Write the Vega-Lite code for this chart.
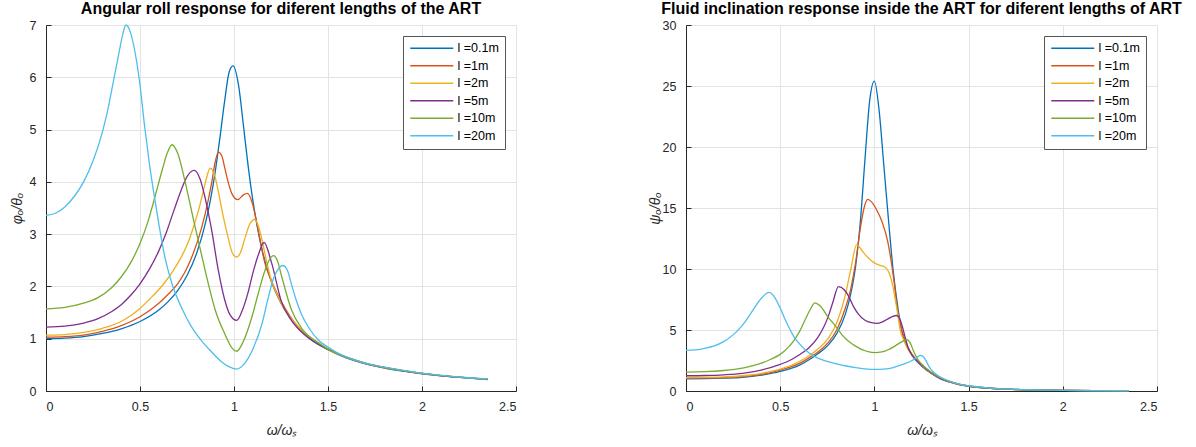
{
"$schema": "https://vega.github.io/schema/vega-lite/v6.json",
"background": "white",
"padding": {"left": 10, "top": 1, "right": 0, "bottom": 0},
"datasets": {
"roll": [
{"s":"l =0.1m","x":0,"y":1.0},{"s":"l =0.1m","x":0.1,"y":1.01},{"s":"l =0.1m","x":0.2,"y":1.04},{"s":"l =0.1m","x":0.3,"y":1.10},{"s":"l =0.1m","x":0.4,"y":1.19},{"s":"l =0.1m","x":0.5,"y":1.33},{"s":"l =0.1m","x":0.6,"y":1.55},{"s":"l =0.1m","x":0.65,"y":1.71},{"s":"l =0.1m","x":0.7,"y":1.92},{"s":"l =0.1m","x":0.75,"y":2.21},{"s":"l =0.1m","x":0.8,"y":2.62},{"s":"l =0.1m","x":0.85,"y":3.24},{"s":"l =0.1m","x":0.875,"y":3.66},{"s":"l =0.1m","x":0.9,"y":4.19},{"s":"l =0.1m","x":0.925,"y":4.84},{"s":"l =0.1m","x":0.95,"y":5.54},{"s":"l =0.1m","x":0.975,"y":6.11},{"s":"l =0.1m","x":0.995,"y":6.22},{"s":"l =0.1m","x":1.025,"y":5.83},{"s":"l =0.1m","x":1.05,"y":5.08},{"s":"l =0.1m","x":1.075,"y":4.31},{"s":"l =0.1m","x":1.1,"y":3.65},{"s":"l =0.1m","x":1.125,"y":3.12},{"s":"l =0.1m","x":1.15,"y":2.69},{"s":"l =0.1m","x":1.2,"y":2.08},{"s":"l =0.1m","x":1.25,"y":1.68},{"s":"l =0.1m","x":1.3,"y":1.39},{"s":"l =0.1m","x":1.4,"y":1.01},{"s":"l =0.1m","x":1.5,"y":0.79},{"s":"l =0.1m","x":1.6,"y":0.63},{"s":"l =0.1m","x":1.7,"y":0.52},{"s":"l =0.1m","x":1.8,"y":0.44},{"s":"l =0.1m","x":1.9,"y":0.38},{"s":"l =0.1m","x":2.0,"y":0.33},{"s":"l =0.1m","x":2.1,"y":0.29},{"s":"l =0.1m","x":2.2,"y":0.26},{"s":"l =0.1m","x":2.35,"y":0.22},
{"s":"l =1m","x":0,"y":1.03},{"s":"l =1m","x":0.1,"y":1.04},{"s":"l =1m","x":0.2,"y":1.07},{"s":"l =1m","x":0.3,"y":1.14},{"s":"l =1m","x":0.4,"y":1.25},{"s":"l =1m","x":0.5,"y":1.42},{"s":"l =1m","x":0.6,"y":1.68},{"s":"l =1m","x":0.65,"y":1.85},{"s":"l =1m","x":0.7,"y":2.05},{"s":"l =1m","x":0.74,"y":2.28},{"s":"l =1m","x":0.78,"y":2.6},{"s":"l =1m","x":0.829,"y":3.14},{"s":"l =1m","x":0.86,"y":3.6},{"s":"l =1m","x":0.882,"y":4.0},{"s":"l =1m","x":0.9,"y":4.38},{"s":"l =1m","x":0.917,"y":4.57},{"s":"l =1m","x":0.935,"y":4.5},{"s":"l =1m","x":0.952,"y":4.25},{"s":"l =1m","x":0.97,"y":3.98},{"s":"l =1m","x":0.988,"y":3.78},{"s":"l =1m","x":1.02,"y":3.66},{"s":"l =1m","x":1.05,"y":3.75},{"s":"l =1m","x":1.072,"y":3.78},{"s":"l =1m","x":1.1,"y":3.56},{"s":"l =1m","x":1.13,"y":3.05},{"s":"l =1m","x":1.164,"y":2.45},{"s":"l =1m","x":1.2,"y":2.1},{"s":"l =1m","x":1.25,"y":1.72},{"s":"l =1m","x":1.3,"y":1.42},{"s":"l =1m","x":1.4,"y":1.03},{"s":"l =1m","x":1.5,"y":0.8},{"s":"l =1m","x":1.6,"y":0.64},{"s":"l =1m","x":1.7,"y":0.525},{"s":"l =1m","x":1.8,"y":0.445},{"s":"l =1m","x":1.9,"y":0.383},{"s":"l =1m","x":2.0,"y":0.333},{"s":"l =1m","x":2.1,"y":0.293},{"s":"l =1m","x":2.2,"y":0.262},{"s":"l =1m","x":2.35,"y":0.224},
{"s":"l =2m","x":0,"y":1.07},{"s":"l =2m","x":0.1,"y":1.08},{"s":"l =2m","x":0.2,"y":1.12},{"s":"l =2m","x":0.3,"y":1.2},{"s":"l =2m","x":0.4,"y":1.33},{"s":"l =2m","x":0.453,"y":1.45},{"s":"l =2m","x":0.5,"y":1.58},{"s":"l =2m","x":0.563,"y":1.8},{"s":"l =2m","x":0.633,"y":2.08},{"s":"l =2m","x":0.68,"y":2.32},{"s":"l =2m","x":0.722,"y":2.58},{"s":"l =2m","x":0.76,"y":2.88},{"s":"l =2m","x":0.79,"y":3.2},{"s":"l =2m","x":0.81,"y":3.44},{"s":"l =2m","x":0.83,"y":3.72},{"s":"l =2m","x":0.85,"y":4.02},{"s":"l =2m","x":0.873,"y":4.26},{"s":"l =2m","x":0.895,"y":4.15},{"s":"l =2m","x":0.917,"y":3.81},{"s":"l =2m","x":0.945,"y":3.3},{"s":"l =2m","x":0.97,"y":2.92},{"s":"l =2m","x":0.99,"y":2.65},{"s":"l =2m","x":1.014,"y":2.56},{"s":"l =2m","x":1.035,"y":2.65},{"s":"l =2m","x":1.058,"y":2.92},{"s":"l =2m","x":1.085,"y":3.2},{"s":"l =2m","x":1.11,"y":3.28},{"s":"l =2m","x":1.13,"y":3.15},{"s":"l =2m","x":1.147,"y":2.92},{"s":"l =2m","x":1.175,"y":2.45},{"s":"l =2m","x":1.2,"y":2.1},{"s":"l =2m","x":1.235,"y":1.8},{"s":"l =2m","x":1.27,"y":1.55},{"s":"l =2m","x":1.3,"y":1.4},{"s":"l =2m","x":1.4,"y":1.04},{"s":"l =2m","x":1.5,"y":0.8},{"s":"l =2m","x":1.6,"y":0.64},{"s":"l =2m","x":1.7,"y":0.527},{"s":"l =2m","x":1.8,"y":0.447},{"s":"l =2m","x":1.9,"y":0.385},{"s":"l =2m","x":2.0,"y":0.334},{"s":"l =2m","x":2.1,"y":0.294},{"s":"l =2m","x":2.2,"y":0.263},{"s":"l =2m","x":2.35,"y":0.225},
{"s":"l =5m","x":0,"y":1.22},{"s":"l =5m","x":0.1,"y":1.24},{"s":"l =5m","x":0.2,"y":1.3},{"s":"l =5m","x":0.274,"y":1.38},{"s":"l =5m","x":0.35,"y":1.52},{"s":"l =5m","x":0.4,"y":1.65},{"s":"l =5m","x":0.453,"y":1.84},{"s":"l =5m","x":0.5,"y":2.05},{"s":"l =5m","x":0.55,"y":2.33},{"s":"l =5m","x":0.6,"y":2.68},{"s":"l =5m","x":0.64,"y":3.03},{"s":"l =5m","x":0.68,"y":3.45},{"s":"l =5m","x":0.72,"y":3.85},{"s":"l =5m","x":0.75,"y":4.1},{"s":"l =5m","x":0.788,"y":4.22},{"s":"l =5m","x":0.82,"y":4.05},{"s":"l =5m","x":0.846,"y":3.7},{"s":"l =5m","x":0.88,"y":3.1},{"s":"l =5m","x":0.917,"y":2.3},{"s":"l =5m","x":0.95,"y":1.75},{"s":"l =5m","x":0.98,"y":1.45},{"s":"l =5m","x":1.014,"y":1.35},{"s":"l =5m","x":1.045,"y":1.55},{"s":"l =5m","x":1.076,"y":1.9},{"s":"l =5m","x":1.1,"y":2.25},{"s":"l =5m","x":1.129,"y":2.6},{"s":"l =5m","x":1.16,"y":2.84},{"s":"l =5m","x":1.2,"y":2.45},{"s":"l =5m","x":1.253,"y":1.7},{"s":"l =5m","x":1.3,"y":1.38},{"s":"l =5m","x":1.35,"y":1.16},{"s":"l =5m","x":1.41,"y":0.98},{"s":"l =5m","x":1.5,"y":0.8},{"s":"l =5m","x":1.6,"y":0.645},{"s":"l =5m","x":1.7,"y":0.53},{"s":"l =5m","x":1.8,"y":0.45},{"s":"l =5m","x":1.9,"y":0.387},{"s":"l =5m","x":2.0,"y":0.336},{"s":"l =5m","x":2.1,"y":0.296},{"s":"l =5m","x":2.2,"y":0.264},{"s":"l =5m","x":2.35,"y":0.226},
{"s":"l =10m","x":0,"y":1.57},{"s":"l =10m","x":0.1,"y":1.6},{"s":"l =10m","x":0.2,"y":1.68},{"s":"l =10m","x":0.274,"y":1.78},{"s":"l =10m","x":0.35,"y":1.98},{"s":"l =10m","x":0.4,"y":2.18},{"s":"l =10m","x":0.453,"y":2.47},{"s":"l =10m","x":0.5,"y":2.82},{"s":"l =10m","x":0.543,"y":3.25},{"s":"l =10m","x":0.58,"y":3.72},{"s":"l =10m","x":0.62,"y":4.25},{"s":"l =10m","x":0.645,"y":4.55},{"s":"l =10m","x":0.67,"y":4.71},{"s":"l =10m","x":0.7,"y":4.55},{"s":"l =10m","x":0.74,"y":4.0},{"s":"l =10m","x":0.78,"y":3.35},{"s":"l =10m","x":0.82,"y":2.72},{"s":"l =10m","x":0.86,"y":2.1},{"s":"l =10m","x":0.9,"y":1.55},{"s":"l =10m","x":0.95,"y":1.1},{"s":"l =10m","x":0.99,"y":0.82},{"s":"l =10m","x":1.014,"y":0.76},{"s":"l =10m","x":1.05,"y":0.95},{"s":"l =10m","x":1.094,"y":1.4},{"s":"l =10m","x":1.13,"y":1.88},{"s":"l =10m","x":1.164,"y":2.3},{"s":"l =10m","x":1.19,"y":2.52},{"s":"l =10m","x":1.21,"y":2.59},{"s":"l =10m","x":1.23,"y":2.5},{"s":"l =10m","x":1.253,"y":2.2},{"s":"l =10m","x":1.306,"y":1.55},{"s":"l =10m","x":1.36,"y":1.2},{"s":"l =10m","x":1.45,"y":0.92},{"s":"l =10m","x":1.55,"y":0.71},{"s":"l =10m","x":1.6,"y":0.65},{"s":"l =10m","x":1.7,"y":0.535},{"s":"l =10m","x":1.8,"y":0.453},{"s":"l =10m","x":1.9,"y":0.39},{"s":"l =10m","x":2.0,"y":0.338},{"s":"l =10m","x":2.1,"y":0.298},{"s":"l =10m","x":2.2,"y":0.266},{"s":"l =10m","x":2.35,"y":0.227},
{"s":"l =20m","x":0,"y":3.36},{"s":"l =20m","x":0.05,"y":3.4},{"s":"l =20m","x":0.1,"y":3.52},{"s":"l =20m","x":0.15,"y":3.72},{"s":"l =20m","x":0.2,"y":4.0},{"s":"l =20m","x":0.25,"y":4.4},{"s":"l =20m","x":0.3,"y":4.95},{"s":"l =20m","x":0.33,"y":5.4},{"s":"l =20m","x":0.36,"y":5.95},{"s":"l =20m","x":0.39,"y":6.5},{"s":"l =20m","x":0.41,"y":6.85},{"s":"l =20m","x":0.425,"y":7.0},{"s":"l =20m","x":0.45,"y":6.85},{"s":"l =20m","x":0.475,"y":6.45},{"s":"l =20m","x":0.5,"y":5.85},{"s":"l =20m","x":0.525,"y":5.05},{"s":"l =20m","x":0.55,"y":4.35},{"s":"l =20m","x":0.575,"y":3.75},{"s":"l =20m","x":0.6,"y":3.2},{"s":"l =20m","x":0.63,"y":2.6},{"s":"l =20m","x":0.67,"y":2.05},{"s":"l =20m","x":0.72,"y":1.6},{"s":"l =20m","x":0.77,"y":1.25},{"s":"l =20m","x":0.83,"y":0.95},{"s":"l =20m","x":0.88,"y":0.75},{"s":"l =20m","x":0.93,"y":0.57},{"s":"l =20m","x":0.97,"y":0.47},{"s":"l =20m","x":1.014,"y":0.42},{"s":"l =20m","x":1.05,"y":0.5},{"s":"l =20m","x":1.1,"y":0.8},{"s":"l =20m","x":1.15,"y":1.3},{"s":"l =20m","x":1.18,"y":1.75},{"s":"l =20m","x":1.21,"y":2.15},{"s":"l =20m","x":1.235,"y":2.33},{"s":"l =20m","x":1.26,"y":2.4},{"s":"l =20m","x":1.285,"y":2.3},{"s":"l =20m","x":1.305,"y":2.05},{"s":"l =20m","x":1.33,"y":1.75},{"s":"l =20m","x":1.36,"y":1.46},{"s":"l =20m","x":1.4,"y":1.2},{"s":"l =20m","x":1.45,"y":0.97},{"s":"l =20m","x":1.5,"y":0.84},{"s":"l =20m","x":1.55,"y":0.73},{"s":"l =20m","x":1.62,"y":0.62},{"s":"l =20m","x":1.7,"y":0.53},{"s":"l =20m","x":1.8,"y":0.455},{"s":"l =20m","x":1.9,"y":0.393},{"s":"l =20m","x":2.0,"y":0.34},{"s":"l =20m","x":2.1,"y":0.3},{"s":"l =20m","x":2.2,"y":0.268},{"s":"l =20m","x":2.35,"y":0.23}
],
"fluid": [
{"s":"l =0.1m","x":0,"y":1.0},{"s":"l =0.1m","x":0.1,"y":1.01},{"s":"l =0.1m","x":0.2,"y":1.05},{"s":"l =0.1m","x":0.3,"y":1.12},{"s":"l =0.1m","x":0.4,"y":1.3},{"s":"l =0.1m","x":0.5,"y":1.6},{"s":"l =0.1m","x":0.6,"y":2.1},{"s":"l =0.1m","x":0.668,"y":2.7},{"s":"l =0.1m","x":0.7,"y":3.05},{"s":"l =0.1m","x":0.757,"y":3.8},{"s":"l =0.1m","x":0.8,"y":4.7},{"s":"l =0.1m","x":0.846,"y":6.3},{"s":"l =0.1m","x":0.875,"y":8.0},{"s":"l =0.1m","x":0.9,"y":10.2},{"s":"l =0.1m","x":0.925,"y":13.8},{"s":"l =0.1m","x":0.95,"y":19.0},{"s":"l =0.1m","x":0.975,"y":23.8},{"s":"l =0.1m","x":1.0,"y":25.4},{"s":"l =0.1m","x":1.025,"y":23.0},{"s":"l =0.1m","x":1.05,"y":18.5},{"s":"l =0.1m","x":1.075,"y":14.0},{"s":"l =0.1m","x":1.1,"y":9.8},{"s":"l =0.1m","x":1.125,"y":6.8},{"s":"l =0.1m","x":1.15,"y":4.6},{"s":"l =0.1m","x":1.175,"y":3.6},{"s":"l =0.1m","x":1.2,"y":2.9},{"s":"l =0.1m","x":1.25,"y":2.05},{"s":"l =0.1m","x":1.3,"y":1.45},{"s":"l =0.1m","x":1.35,"y":1.0},{"s":"l =0.1m","x":1.4,"y":0.72},{"s":"l =0.1m","x":1.45,"y":0.52},{"s":"l =0.1m","x":1.5,"y":0.38},{"s":"l =0.1m","x":1.6,"y":0.23},{"s":"l =0.1m","x":1.7,"y":0.15},{"s":"l =0.1m","x":1.8,"y":0.1},{"s":"l =0.1m","x":1.9,"y":0.07},{"s":"l =0.1m","x":2.0,"y":0.05},{"s":"l =0.1m","x":2.2,"y":0.03},{"s":"l =0.1m","x":2.35,"y":0.02},
{"s":"l =1m","x":0,"y":1.05},{"s":"l =1m","x":0.1,"y":1.06},{"s":"l =1m","x":0.2,"y":1.1},{"s":"l =1m","x":0.3,"y":1.18},{"s":"l =1m","x":0.4,"y":1.36},{"s":"l =1m","x":0.5,"y":1.72},{"s":"l =1m","x":0.6,"y":2.25},{"s":"l =1m","x":0.668,"y":2.86},{"s":"l =1m","x":0.7,"y":3.2},{"s":"l =1m","x":0.757,"y":4.0},{"s":"l =1m","x":0.8,"y":5.0},{"s":"l =1m","x":0.846,"y":6.8},{"s":"l =1m","x":0.875,"y":8.4},{"s":"l =1m","x":0.9,"y":10.5},{"s":"l =1m","x":0.925,"y":13.3},{"s":"l =1m","x":0.945,"y":15.0},{"s":"l =1m","x":0.965,"y":15.7},{"s":"l =1m","x":0.985,"y":15.5},{"s":"l =1m","x":1.01,"y":14.9},{"s":"l =1m","x":1.04,"y":13.9},{"s":"l =1m","x":1.07,"y":12.3},{"s":"l =1m","x":1.092,"y":10.35},{"s":"l =1m","x":1.105,"y":8.9},{"s":"l =1m","x":1.119,"y":7.0},{"s":"l =1m","x":1.14,"y":5.3},{"s":"l =1m","x":1.16,"y":4.3},{"s":"l =1m","x":1.18,"y":3.55},{"s":"l =1m","x":1.2,"y":3.0},{"s":"l =1m","x":1.25,"y":2.1},{"s":"l =1m","x":1.3,"y":1.48},{"s":"l =1m","x":1.35,"y":1.03},{"s":"l =1m","x":1.4,"y":0.74},{"s":"l =1m","x":1.45,"y":0.53},{"s":"l =1m","x":1.5,"y":0.39},{"s":"l =1m","x":1.6,"y":0.235},{"s":"l =1m","x":1.7,"y":0.155},{"s":"l =1m","x":1.8,"y":0.1},{"s":"l =1m","x":1.9,"y":0.07},{"s":"l =1m","x":2.0,"y":0.05},{"s":"l =1m","x":2.2,"y":0.03},{"s":"l =1m","x":2.35,"y":0.02},
{"s":"l =2m","x":0,"y":1.1},{"s":"l =2m","x":0.1,"y":1.11},{"s":"l =2m","x":0.2,"y":1.15},{"s":"l =2m","x":0.3,"y":1.25},{"s":"l =2m","x":0.4,"y":1.45},{"s":"l =2m","x":0.5,"y":1.8},{"s":"l =2m","x":0.6,"y":2.4},{"s":"l =2m","x":0.668,"y":3.05},{"s":"l =2m","x":0.7,"y":3.45},{"s":"l =2m","x":0.757,"y":4.36},{"s":"l =2m","x":0.8,"y":5.6},{"s":"l =2m","x":0.846,"y":7.9},{"s":"l =2m","x":0.875,"y":10.0},{"s":"l =2m","x":0.906,"y":12.0},{"s":"l =2m","x":0.93,"y":11.6},{"s":"l =2m","x":0.95,"y":11.2},{"s":"l =2m","x":0.975,"y":10.8},{"s":"l =2m","x":1.0,"y":10.5},{"s":"l =2m","x":1.03,"y":10.3},{"s":"l =2m","x":1.057,"y":10.15},{"s":"l =2m","x":1.078,"y":9.7},{"s":"l =2m","x":1.095,"y":8.8},{"s":"l =2m","x":1.11,"y":7.6},{"s":"l =2m","x":1.125,"y":6.2},{"s":"l =2m","x":1.137,"y":5.0},{"s":"l =2m","x":1.155,"y":4.2},{"s":"l =2m","x":1.175,"y":3.5},{"s":"l =2m","x":1.2,"y":2.95},{"s":"l =2m","x":1.25,"y":2.12},{"s":"l =2m","x":1.3,"y":1.5},{"s":"l =2m","x":1.35,"y":1.05},{"s":"l =2m","x":1.4,"y":0.75},{"s":"l =2m","x":1.45,"y":0.54},{"s":"l =2m","x":1.5,"y":0.4},{"s":"l =2m","x":1.6,"y":0.24},{"s":"l =2m","x":1.7,"y":0.155},{"s":"l =2m","x":1.8,"y":0.1},{"s":"l =2m","x":1.9,"y":0.07},{"s":"l =2m","x":2.0,"y":0.05},{"s":"l =2m","x":2.2,"y":0.03},{"s":"l =2m","x":2.35,"y":0.02},
{"s":"l =5m","x":0,"y":1.25},{"s":"l =5m","x":0.1,"y":1.27},{"s":"l =5m","x":0.2,"y":1.33},{"s":"l =5m","x":0.3,"y":1.45},{"s":"l =5m","x":0.4,"y":1.72},{"s":"l =5m","x":0.5,"y":2.18},{"s":"l =5m","x":0.55,"y":2.5},{"s":"l =5m","x":0.6,"y":2.95},{"s":"l =5m","x":0.65,"y":3.5},{"s":"l =5m","x":0.7,"y":4.4},{"s":"l =5m","x":0.73,"y":5.2},{"s":"l =5m","x":0.757,"y":6.2},{"s":"l =5m","x":0.78,"y":7.3},{"s":"l =5m","x":0.809,"y":8.56},{"s":"l =5m","x":0.84,"y":8.3},{"s":"l =5m","x":0.862,"y":7.8},{"s":"l =5m","x":0.89,"y":6.9},{"s":"l =5m","x":0.915,"y":6.3},{"s":"l =5m","x":0.95,"y":5.8},{"s":"l =5m","x":0.985,"y":5.6},{"s":"l =5m","x":1.012,"y":5.55},{"s":"l =5m","x":1.04,"y":5.65},{"s":"l =5m","x":1.066,"y":5.86},{"s":"l =5m","x":1.095,"y":6.1},{"s":"l =5m","x":1.119,"y":6.19},{"s":"l =5m","x":1.135,"y":5.9},{"s":"l =5m","x":1.15,"y":5.2},{"s":"l =5m","x":1.165,"y":4.3},{"s":"l =5m","x":1.18,"y":3.5},{"s":"l =5m","x":1.2,"y":2.95},{"s":"l =5m","x":1.25,"y":2.15},{"s":"l =5m","x":1.3,"y":1.52},{"s":"l =5m","x":1.35,"y":1.06},{"s":"l =5m","x":1.4,"y":0.76},{"s":"l =5m","x":1.45,"y":0.55},{"s":"l =5m","x":1.5,"y":0.41},{"s":"l =5m","x":1.6,"y":0.245},{"s":"l =5m","x":1.7,"y":0.16},{"s":"l =5m","x":1.8,"y":0.1},{"s":"l =5m","x":1.9,"y":0.07},{"s":"l =5m","x":2.0,"y":0.05},{"s":"l =5m","x":2.2,"y":0.03},{"s":"l =5m","x":2.35,"y":0.02},
{"s":"l =10m","x":0,"y":1.55},{"s":"l =10m","x":0.1,"y":1.58},{"s":"l =10m","x":0.2,"y":1.68},{"s":"l =10m","x":0.3,"y":1.88},{"s":"l =10m","x":0.4,"y":2.28},{"s":"l =10m","x":0.45,"y":2.6},{"s":"l =10m","x":0.5,"y":3.0},{"s":"l =10m","x":0.55,"y":3.7},{"s":"l =10m","x":0.58,"y":4.3},{"s":"l =10m","x":0.6,"y":4.8},{"s":"l =10m","x":0.633,"y":5.86},{"s":"l =10m","x":0.66,"y":6.7},{"s":"l =10m","x":0.684,"y":7.22},{"s":"l =10m","x":0.71,"y":7.0},{"s":"l =10m","x":0.757,"y":6.0},{"s":"l =10m","x":0.8,"y":5.2},{"s":"l =10m","x":0.828,"y":4.6},{"s":"l =10m","x":0.87,"y":4.0},{"s":"l =10m","x":0.9,"y":3.68},{"s":"l =10m","x":0.95,"y":3.3},{"s":"l =10m","x":1.0,"y":3.15},{"s":"l =10m","x":1.04,"y":3.2},{"s":"l =10m","x":1.076,"y":3.4},{"s":"l =10m","x":1.11,"y":3.7},{"s":"l =10m","x":1.147,"y":4.05},{"s":"l =10m","x":1.172,"y":4.22},{"s":"l =10m","x":1.19,"y":3.95},{"s":"l =10m","x":1.207,"y":3.3},{"s":"l =10m","x":1.23,"y":2.6},{"s":"l =10m","x":1.25,"y":2.22},{"s":"l =10m","x":1.3,"y":1.55},{"s":"l =10m","x":1.35,"y":1.1},{"s":"l =10m","x":1.4,"y":0.78},{"s":"l =10m","x":1.45,"y":0.56},{"s":"l =10m","x":1.5,"y":0.42},{"s":"l =10m","x":1.6,"y":0.25},{"s":"l =10m","x":1.7,"y":0.16},{"s":"l =10m","x":1.8,"y":0.1},{"s":"l =10m","x":1.9,"y":0.07},{"s":"l =10m","x":2.0,"y":0.05},{"s":"l =10m","x":2.2,"y":0.03},{"s":"l =10m","x":2.35,"y":0.02},
{"s":"l =20m","x":0,"y":3.33},{"s":"l =20m","x":0.05,"y":3.37},{"s":"l =20m","x":0.1,"y":3.5},{"s":"l =20m","x":0.15,"y":3.7},{"s":"l =20m","x":0.2,"y":4.05},{"s":"l =20m","x":0.25,"y":4.6},{"s":"l =20m","x":0.3,"y":5.4},{"s":"l =20m","x":0.35,"y":6.5},{"s":"l =20m","x":0.4,"y":7.6},{"s":"l =20m","x":0.44,"y":8.08},{"s":"l =20m","x":0.47,"y":7.7},{"s":"l =20m","x":0.5,"y":6.8},{"s":"l =20m","x":0.525,"y":5.9},{"s":"l =20m","x":0.55,"y":5.1},{"s":"l =20m","x":0.575,"y":4.4},{"s":"l =20m","x":0.6,"y":3.9},{"s":"l =20m","x":0.65,"y":3.15},{"s":"l =20m","x":0.7,"y":2.7},{"s":"l =20m","x":0.75,"y":2.42},{"s":"l =20m","x":0.8,"y":2.22},{"s":"l =20m","x":0.85,"y":2.05},{"s":"l =20m","x":0.9,"y":1.92},{"s":"l =20m","x":0.95,"y":1.82},{"s":"l =20m","x":1.0,"y":1.77},{"s":"l =20m","x":1.05,"y":1.8},{"s":"l =20m","x":1.1,"y":1.92},{"s":"l =20m","x":1.15,"y":2.18},{"s":"l =20m","x":1.2,"y":2.5},{"s":"l =20m","x":1.225,"y":2.75},{"s":"l =20m","x":1.245,"y":2.92},{"s":"l =20m","x":1.27,"y":2.6},{"s":"l =20m","x":1.29,"y":2.0},{"s":"l =20m","x":1.31,"y":1.6},{"s":"l =20m","x":1.35,"y":1.15},{"s":"l =20m","x":1.4,"y":0.8},{"s":"l =20m","x":1.45,"y":0.57},{"s":"l =20m","x":1.5,"y":0.43},{"s":"l =20m","x":1.6,"y":0.26},{"s":"l =20m","x":1.7,"y":0.17},{"s":"l =20m","x":1.8,"y":0.11},{"s":"l =20m","x":1.9,"y":0.075},{"s":"l =20m","x":2.0,"y":0.055},{"s":"l =20m","x":2.2,"y":0.035},{"s":"l =20m","x":2.35,"y":0.025}
]
},
"config": {
"font": "Liberation Sans",
"view": {"stroke": null},
"axis": {"grid": true, "gridColor": "#e3e3e3", "domainColor": "#262626", "tickColor": "#262626", "labelColor": "#262626", "labelFontSize": 12.5, "titleFontSize": 14, "titleFontWeight": "normal", "titleColor": "#262626", "titleFontStyle": "italic", "tickSize": -5},
"axisX": {"labelPadding": 14, "titlePadding": 11},
"axisY": {"labelPadding": 15},
"title": {"fontSize": 16, "fontWeight": "bold", "color": "#000000", "offset": 2},
"legend": {"orient": "top-right", "offset": 11, "strokeColor": "#555555", "fillColor": "white", "padding": 6, "symbolType": "M-1,0H7.6", "symbolSize": 100, "symbolStrokeWidth": 1.3, "labelFontSize": 12.5, "labelOffset": 36, "rowPadding": 4.5, "labelColor": "#000000"}
},
"spacing": 170,
"bounds": "flush",
"resolve": {"scale": {"color": "independent"}, "legend": {"color": "independent"}},
"hconcat": [
{
"width": 470, "height": 366,
"title": "Angular roll response for diferent lengths of the ART",
"data": {"name": "roll"},
"mark": {"type": "line", "strokeWidth": 1.3, "interpolate": "monotone"},
"encoding": {
"x": {"field": "x", "type": "quantitative", "scale": {"domain": [0, 2.5], "nice": false}, "axis": {"values": [0, 0.5, 1, 1.5, 2, 2.5], "format": "~g", "title": "ω/ωₛ"}},
"y": {"field": "y", "type": "quantitative", "scale": {"domain": [0, 7], "nice": false}, "axis": {"values": [0, 1, 2, 3, 4, 5, 6, 7], "title": "φₒ/θₒ", "titleX": -22}},
"color": {"field": "s", "type": "nominal", "scale": {"domain": ["l =0.1m", "l =1m", "l =2m", "l =5m", "l =10m", "l =20m"], "range": ["#0072BD", "#D95319", "#EDB120", "#7E2F8E", "#77AC30", "#4DBEEE"]}, "legend": {"title": null}}
}
},
{
"width": 471, "height": 366,
"title": "Fluid inclination response inside the ART for diferent lengths of ART",
"data": {"name": "fluid"},
"mark": {"type": "line", "strokeWidth": 1.3, "interpolate": "monotone"},
"encoding": {
"x": {"field": "x", "type": "quantitative", "scale": {"domain": [0, 2.5], "nice": false}, "axis": {"values": [0, 0.5, 1, 1.5, 2, 2.5], "format": "~g", "title": "ω/ωₛ"}},
"y": {"field": "y", "type": "quantitative", "scale": {"domain": [0, 30], "nice": false}, "axis": {"values": [0, 5, 10, 15, 20, 25, 30], "title": "ψₒ/θₒ", "titleX": -24}},
"color": {"field": "s", "type": "nominal", "scale": {"domain": ["l =0.1m", "l =1m", "l =2m", "l =5m", "l =10m", "l =20m"], "range": ["#0072BD", "#D95319", "#EDB120", "#7E2F8E", "#77AC30", "#4DBEEE"]}, "legend": {"title": null}}
}
}
]
}
